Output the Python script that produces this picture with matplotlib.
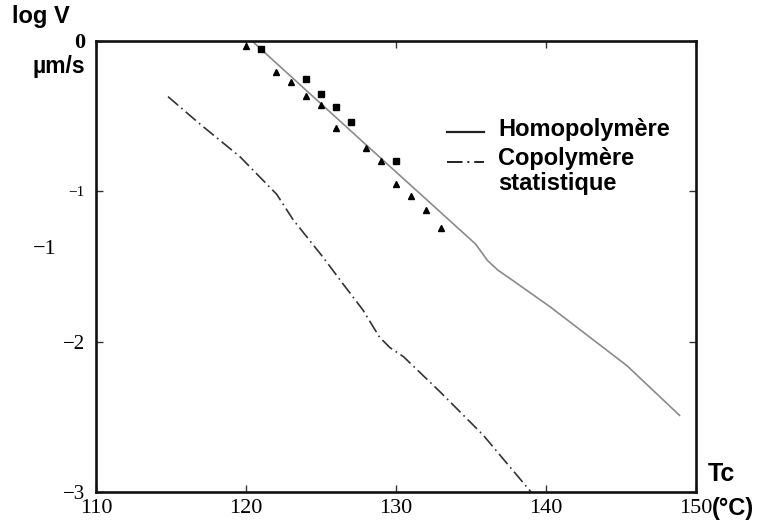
import matplotlib
matplotlib.use("Agg")
import matplotlib.pyplot as plt

# ---- data ----
homo_T = [120.4, 128.0, 135.3, 136.1, 136.8, 137.6, 140.3, 145.4, 148.9]
homo_logV = [0.0, -0.69, -1.35, -1.46, -1.525, -1.58, -1.77, -2.16, -2.49]

copo_T = [114.8, 116.9, 119.6, 122.05, 123.15, 125.15, 126.5, 127.8, 128.9,
          129.6, 130.5, 132.9, 135.8, 139.0]
copo_logV = [-0.37, -0.55, -0.77, -1.02, -1.19, -1.44, -1.62, -1.79, -1.97,
             -2.04, -2.10, -2.33, -2.62, -3.0]

tri_T = [120, 122, 123, 124, 125, 126, 128, 129, 130, 131, 132, 133]
tri_logV = [-0.03, -0.205, -0.275, -0.367, -0.425, -0.582, -0.709, -0.795,
            -0.953, -1.031, -1.127, -1.247]

sq_T = [121, 124, 125, 126, 127, 130]
sq_logV = [-0.05, -0.251, -0.351, -0.442, -0.54, -0.795]

xticks = [110, 120, 130, 140, 150]
xticklabels = ["110", "120", "130", "140", "150"]
yticks = [0, -1, -2, -3]
yticklabels = ["0", "\u22121", "\u22122", "\u22123"]

legend_labels = ["Homopolymère", "Copolymère", "statistique"]

W, H = 760, 521
fig = plt.figure(figsize=(W / 100, H / 100), dpi=100)
ax = fig.add_axes([96 / W, 1 - 492 / H, 600 / W, 451 / H])

ax.plot(homo_T, homo_logV, color="#8a8a8a", lw=1.2)
ax.plot(copo_T, copo_logV, color="#333333", lw=1.2,
        linestyle=(0, (8, 2.5, 1, 2.5)))
ax.plot(tri_T, tri_logV, linestyle="none", marker="^", color="black",
        markersize=4.2, clip_on=False)
ax.plot(sq_T, sq_logV, linestyle="none", marker="s", color="black",
        markersize=4.2, clip_on=False)

ax.set_xlim(110, 150)
ax.set_ylim(-3, 0)

for s in ax.spines.values():
    s.set_linewidth(1.9)
    s.set_color("#111111")

serif = "Liberation Serif"
sans = "Liberation Sans"

ax.set_xticks(xticks)
ax.set_xticklabels(xticklabels, fontfamily=serif, fontsize=16)
ax.set_yticks(yticks)
ax.set_yticklabels(yticklabels, fontfamily=serif, fontsize=15)
ax.tick_params(direction="in", length=5, width=1, top=True, right=True,
               color="#333333")
ax.tick_params(axis="x", pad=5)
ax.tick_params(axis="y", pad=8)
ylabs = ax.get_yticklabels()
ylabs[0].set_fontweight("bold")
ylabs[0].set_fontsize(16)
ylabs[1].set_fontsize(11)
xl = ax.get_xticklabels()
xl[0].set_x(110.4)

# stray label as in the original figure
fig.text(57 / W, 1 - 250 / H, "\u22121", fontfamily=serif, fontsize=16,
         ha="right", va="center")

# axis titles
fig.text(12 / W, 1 - 17 / H, "log V", fontfamily=sans, fontweight="bold",
         fontsize=17, ha="left", va="center")
fig.text(85 / W, 1 - 66 / H, "\u00b5m/s", fontfamily=sans, fontweight="bold",
         fontsize=16.5, ha="right", va="center")
fig.text(708 / W, 1 - 474 / H, "Tc", fontfamily=sans, fontweight="bold",
         fontsize=18, ha="left", va="center")
fig.text(712 / W, 1 - 508 / H, "(°C)", fontfamily=sans, fontweight="bold",
         fontsize=17, ha="left", va="center")

# legend drawn manually
ax.plot([0.585, 0.647], [0.7976, 0.7976], transform=ax.transAxes,
        color="#222222", lw=1.6)
ax.plot([0.585, 0.647], [0.7324, 0.7324], transform=ax.transAxes,
        color="#222222", lw=1.4, linestyle=(0, (8, 2.5, 1, 2.5)))
ax.text(0.67, 0.7894, legend_labels[0], transform=ax.transAxes,
        fontfamily=sans, fontweight="bold", fontsize=17, va="baseline")
ax.text(0.67, 0.725, legend_labels[1], transform=ax.transAxes,
        fontfamily=sans, fontweight="bold", fontsize=17, va="baseline")
ax.text(0.67, 0.6696, legend_labels[2], transform=ax.transAxes,
        fontfamily=sans, fontweight="bold", fontsize=17, va="baseline")

fig.savefig("out.png", dpi=100)
